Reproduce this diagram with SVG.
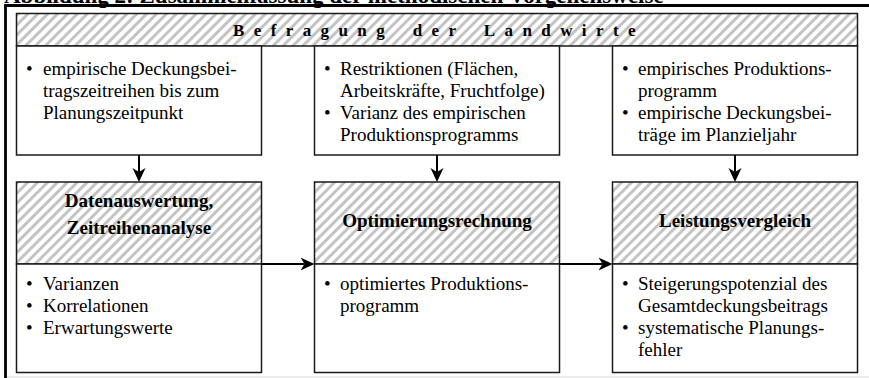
<svg xmlns="http://www.w3.org/2000/svg" width="869" height="378" viewBox="0 0 869 378">
<defs>
<pattern id="hatch" patternUnits="userSpaceOnUse" width="7" height="7" patternTransform="rotate(45)">
<rect width="7" height="7" fill="#fff"/>
<rect x="0" y="0" width="3" height="7" fill="#c4c4c4"/>
</pattern>
<marker id="ah" markerUnits="userSpaceOnUse" markerWidth="14" markerHeight="14" refX="4" refY="6.5" orient="auto" viewBox="0 0 14 13">
<path d="M0,0 L14,6.5 L0,13 L4,6.5 Z" fill="#000"/>
</marker>
<style>
.box{fill:#fff;stroke:#1a1a1a;stroke-width:1.5}
.hb{fill:url(#hatch);stroke:#1a1a1a;stroke-width:1.5}
.t{font-family:"Liberation Serif","Times New Roman",serif;font-size:19px;fill:#000}
.b{font-family:"Liberation Serif","Times New Roman",serif;font-size:19px;font-weight:bold;fill:#000;text-anchor:middle}
.c{stroke:#000;stroke-width:2;fill:none;marker-end:url(#ah)}
</style>
</defs>
<rect width="869" height="378" fill="#fff"/>
<rect x="7" y="376" width="862" height="2" fill="#ececec"/>
<text x="4" y="3" font-family="'Liberation Serif','Times New Roman',serif" font-size="23" font-weight="bold">Abbildung 2: Zusammenfassung der methodischen Vorgehensweise</text>
<path d="M5.5,378 V5.5 H869" fill="none" stroke="#000" stroke-width="2.8"/>

<g id="header">
<rect class="hb" x="16.5" y="13.5" width="841" height="32.5"/>
<text x="233" y="35.5" font-family="'Liberation Serif','Times New Roman',serif" font-size="17" font-weight="bold" letter-spacing="9.4" word-spacing="5">Befragung der Landwirte</text>
</g>

<g id="in1">
<rect class="box" x="16.5" y="46" width="245" height="109"/>
<text class="t" x="26" y="75">•</text>
<text class="t" x="43" y="75">empirische Deckungsbei-</text>
<text class="t" x="43" y="97">tragszeitreihen bis zum</text>
<text class="t" x="43" y="119">Planungszeitpunkt</text>
</g>
<g id="in2">
<rect class="box" x="314.5" y="46" width="245" height="109"/>
<text class="t" x="324" y="75">•</text>
<text class="t" x="340" y="75">Restriktionen (Flächen,</text>
<text class="t" x="340" y="97">Arbeitskräfte, Fruchtfolge)</text>
<text class="t" x="324" y="119">•</text>
<text class="t" x="340" y="119">Varianz des empirischen</text>
<text class="t" x="340" y="141">Produktionsprogramms</text>
</g>
<g id="in3">
<rect class="box" x="612.5" y="46" width="245" height="109"/>
<text class="t" x="622" y="75">•</text>
<text class="t" x="638" y="75">empirisches Produktions-</text>
<text class="t" x="638" y="97">programm</text>
<text class="t" x="622" y="119">•</text>
<text class="t" x="638" y="119">empirische Deckungsbei-</text>
<text class="t" x="638" y="141">träge im Planzieljahr</text>
</g>

<g id="step1">
<rect class="hb" x="16.5" y="182" width="245" height="82"/>
<text class="b" x="139" y="207">Datenauswertung,</text>
<text class="b" x="139" y="234">Zeitreihenanalyse</text>
</g>
<g id="step2">
<rect class="hb" x="314.5" y="182" width="245" height="82"/>
<text class="b" x="437" y="227">Optimierungsrechnung</text>
</g>
<g id="step3">
<rect class="hb" x="612.5" y="182" width="245" height="82"/>
<text class="b" x="735" y="227">Leistungsvergleich</text>
</g>

<g id="out1">
<rect class="box" x="16.5" y="264" width="245" height="108.5"/>
<text class="t" x="26" y="290">•</text>
<text class="t" x="43" y="290">Varianzen</text>
<text class="t" x="26" y="312">•</text>
<text class="t" x="43" y="312">Korrelationen</text>
<text class="t" x="26" y="334">•</text>
<text class="t" x="43" y="334">Erwartungswerte</text>
</g>
<g id="out2">
<rect class="box" x="314.5" y="264" width="245" height="108.5"/>
<text class="t" x="324" y="290">•</text>
<text class="t" x="340" y="290">optimiertes Produktions-</text>
<text class="t" x="340" y="312">programm</text>
</g>
<g id="out3">
<rect class="box" x="612.5" y="264" width="245" height="108.5"/>
<text class="t" x="622" y="290">•</text>
<text class="t" x="638" y="290">Steigerungspotenzial des</text>
<text class="t" x="638" y="312">Gesamtdeckungsbeitrags</text>
<text class="t" x="622" y="334">•</text>
<text class="t" x="638" y="334">systematische Planungs-</text>
<text class="t" x="638" y="356">fehler</text>
</g>

<g id="connectors">
<line class="c" x1="139" y1="155" x2="139" y2="172"/>
<line class="c" x1="437" y1="155" x2="437" y2="172"/>
<line class="c" x1="735" y1="155" x2="735" y2="172"/>
<line class="c" x1="261.5" y1="264" x2="304.5" y2="264"/>
<line class="c" x1="559.5" y1="264" x2="602.5" y2="264"/>
</g>
</svg>
